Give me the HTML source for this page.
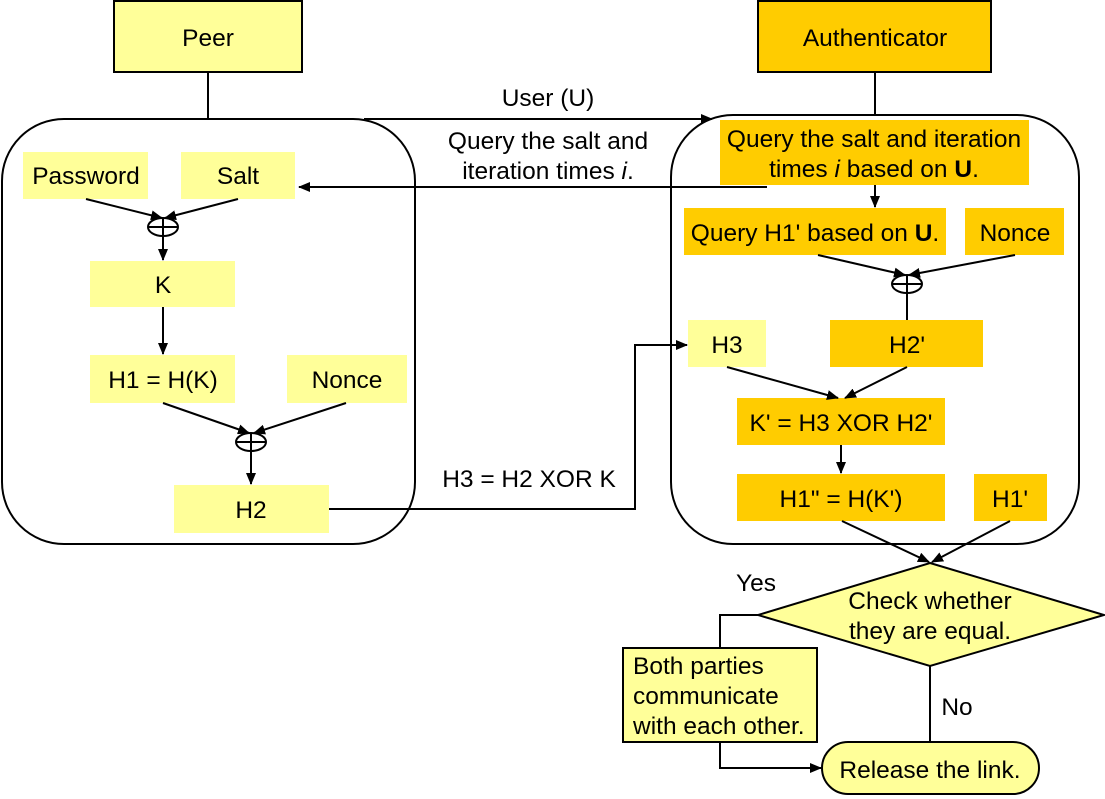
<!DOCTYPE html>
<html><head><style>body{margin:0;background:#fff}svg{display:block}text{font-family:"Liberation Sans",Arial,sans-serif;font-size:24.5px;fill:#000}</style></head><body>
<svg width="1105" height="799" viewBox="0 0 1105 799" xmlns="http://www.w3.org/2000/svg">
<defs><marker id="a" markerWidth="12" markerHeight="10" refX="11" refY="5" orient="auto" markerUnits="userSpaceOnUse"><path d="M0,0 L12,5 L0,10 z" fill="#000"/></marker></defs>
<g stroke="#000" stroke-width="2" fill="none">
<rect x="2" y="119" width="413" height="425" rx="62"/>
<rect x="671" y="115" width="408" height="429" rx="62"/>
<line x1="208" y1="72" x2="208" y2="119"/>
<line x1="875" y1="72" x2="875" y2="115"/>
</g>
<rect x="114" y="1" width="188" height="71" fill="#ffff99" stroke="#000" stroke-width="2"/>
<text x="208" y="46" text-anchor="middle">Peer</text>
<rect x="758" y="1" width="233" height="71" fill="#ffcc00" stroke="#000" stroke-width="2"/>
<text x="875" y="46" text-anchor="middle">Authenticator</text>
<g fill="#ffff99">
<rect x="23" y="152" width="125" height="47"/><rect x="181" y="152" width="114" height="47"/>
<rect x="90" y="261" width="145" height="46"/><rect x="90" y="355" width="145" height="48"/>
<rect x="287" y="355" width="120" height="48"/><rect x="174" y="485" width="155" height="48"/>
<rect x="688" y="320" width="78" height="47"/>
</g>
<g fill="#ffcc00">
<rect x="720" y="120" width="309" height="65"/><rect x="684" y="208" width="262" height="47"/>
<rect x="965" y="208" width="99" height="47"/><rect x="830" y="320" width="153" height="47"/>
<rect x="737" y="398" width="208" height="47"/><rect x="737" y="474" width="208" height="47"/>
<rect x="974" y="474" width="73" height="47"/>
</g>
<g text-anchor="middle">
<text x="86" y="184">Password</text><text x="238" y="184">Salt</text>
<text x="163" y="293">K</text><text x="163" y="388">H1 = H(K)</text><text x="347" y="388">Nonce</text>
<text x="251" y="518">H2</text><text x="727" y="353">H3</text><text x="907" y="353">H2'</text>
<text x="874" y="147">Query the salt and iteration</text>
<text x="874" y="177">times <tspan font-style="italic">i</tspan> based on <tspan font-weight="bold">U</tspan>.</text>
<text x="815" y="241">Query H1' based on <tspan font-weight="bold">U</tspan>.</text>
<text x="1015" y="241">Nonce</text>
<text x="841" y="431">K' = H3 XOR H2'</text>
<text x="841" y="507">H1" = H(K')</text><text x="1010" y="507">H1'</text>
<text x="548" y="106">User (U)</text>
<text x="548" y="149">Query the salt and</text>
<text x="548" y="179">iteration times <tspan font-style="italic">i</tspan>.</text>
<text x="529" y="487">H3 = H2 XOR K</text>
<text x="756" y="591">Yes</text><text x="957" y="715">No</text>
</g>
<g stroke="#000" stroke-width="2" fill="none">
<line x1="364" y1="119" x2="712" y2="119" marker-end="url(#a)"/>
<line x1="767" y1="187" x2="299" y2="187" marker-end="url(#a)"/>
<line x1="86" y1="199" x2="162" y2="218" marker-end="url(#a)"/>
<line x1="238" y1="199" x2="165" y2="218" marker-end="url(#a)"/>
<ellipse cx="163" cy="227" rx="15" ry="9"/><line x1="148" y1="227" x2="178" y2="227"/><line x1="163" y1="218" x2="163" y2="236"/>
<line x1="163" y1="236" x2="163" y2="260" marker-end="url(#a)"/>
<line x1="163" y1="307" x2="163" y2="354" marker-end="url(#a)"/>
<line x1="163" y1="403" x2="249" y2="433" marker-end="url(#a)"/>
<line x1="346" y1="403" x2="254" y2="433" marker-end="url(#a)"/>
<ellipse cx="251" cy="442" rx="15" ry="9"/><line x1="236" y1="442" x2="266" y2="442"/><line x1="251" y1="433" x2="251" y2="451"/>
<line x1="251" y1="451" x2="251" y2="484" marker-end="url(#a)"/>
<polyline points="329,509 635,509 635,345 687,345" marker-end="url(#a)"/>
<line x1="875" y1="185" x2="875" y2="207" marker-end="url(#a)"/>
<line x1="818" y1="255" x2="905" y2="275" marker-end="url(#a)"/>
<line x1="1015" y1="255" x2="909" y2="275" marker-end="url(#a)"/>
<ellipse cx="907" cy="284" rx="15" ry="9"/><line x1="892" y1="284" x2="922" y2="284"/><line x1="907" y1="275" x2="907" y2="293"/>
<line x1="907" y1="293" x2="907" y2="320"/>
<line x1="727" y1="367" x2="838" y2="398" marker-end="url(#a)"/>
<line x1="907" y1="367" x2="845" y2="398" marker-end="url(#a)"/>
<line x1="841" y1="445" x2="841" y2="473" marker-end="url(#a)"/>
<line x1="842" y1="521" x2="929" y2="562" marker-end="url(#a)"/>
<line x1="1010" y1="521" x2="932" y2="562" marker-end="url(#a)"/>
<polyline points="758,615 720,615 720,648"/>
<polyline points="720,742 720,768 821,768" marker-end="url(#a)"/>
<line x1="930" y1="666" x2="930" y2="742"/>
</g>
<polygon points="930,563 1104,615 930,666 758,615" fill="#ffff99" stroke="#000" stroke-width="2"/>
<text x="930" y="609" text-anchor="middle">Check whether</text><text x="930" y="639" text-anchor="middle">they are equal.</text>
<rect x="623" y="648" width="194" height="94" fill="#ffff99" stroke="#000" stroke-width="2"/>
<text x="633" y="674">Both parties</text><text x="633" y="704">communicate</text><text x="633" y="734">with each other.</text>
<rect x="822" y="742" width="217" height="52" rx="26" fill="#ffff99" stroke="#000" stroke-width="2"/>
<text x="930" y="778" text-anchor="middle">Release the link.</text>
</svg>
</body></html>
